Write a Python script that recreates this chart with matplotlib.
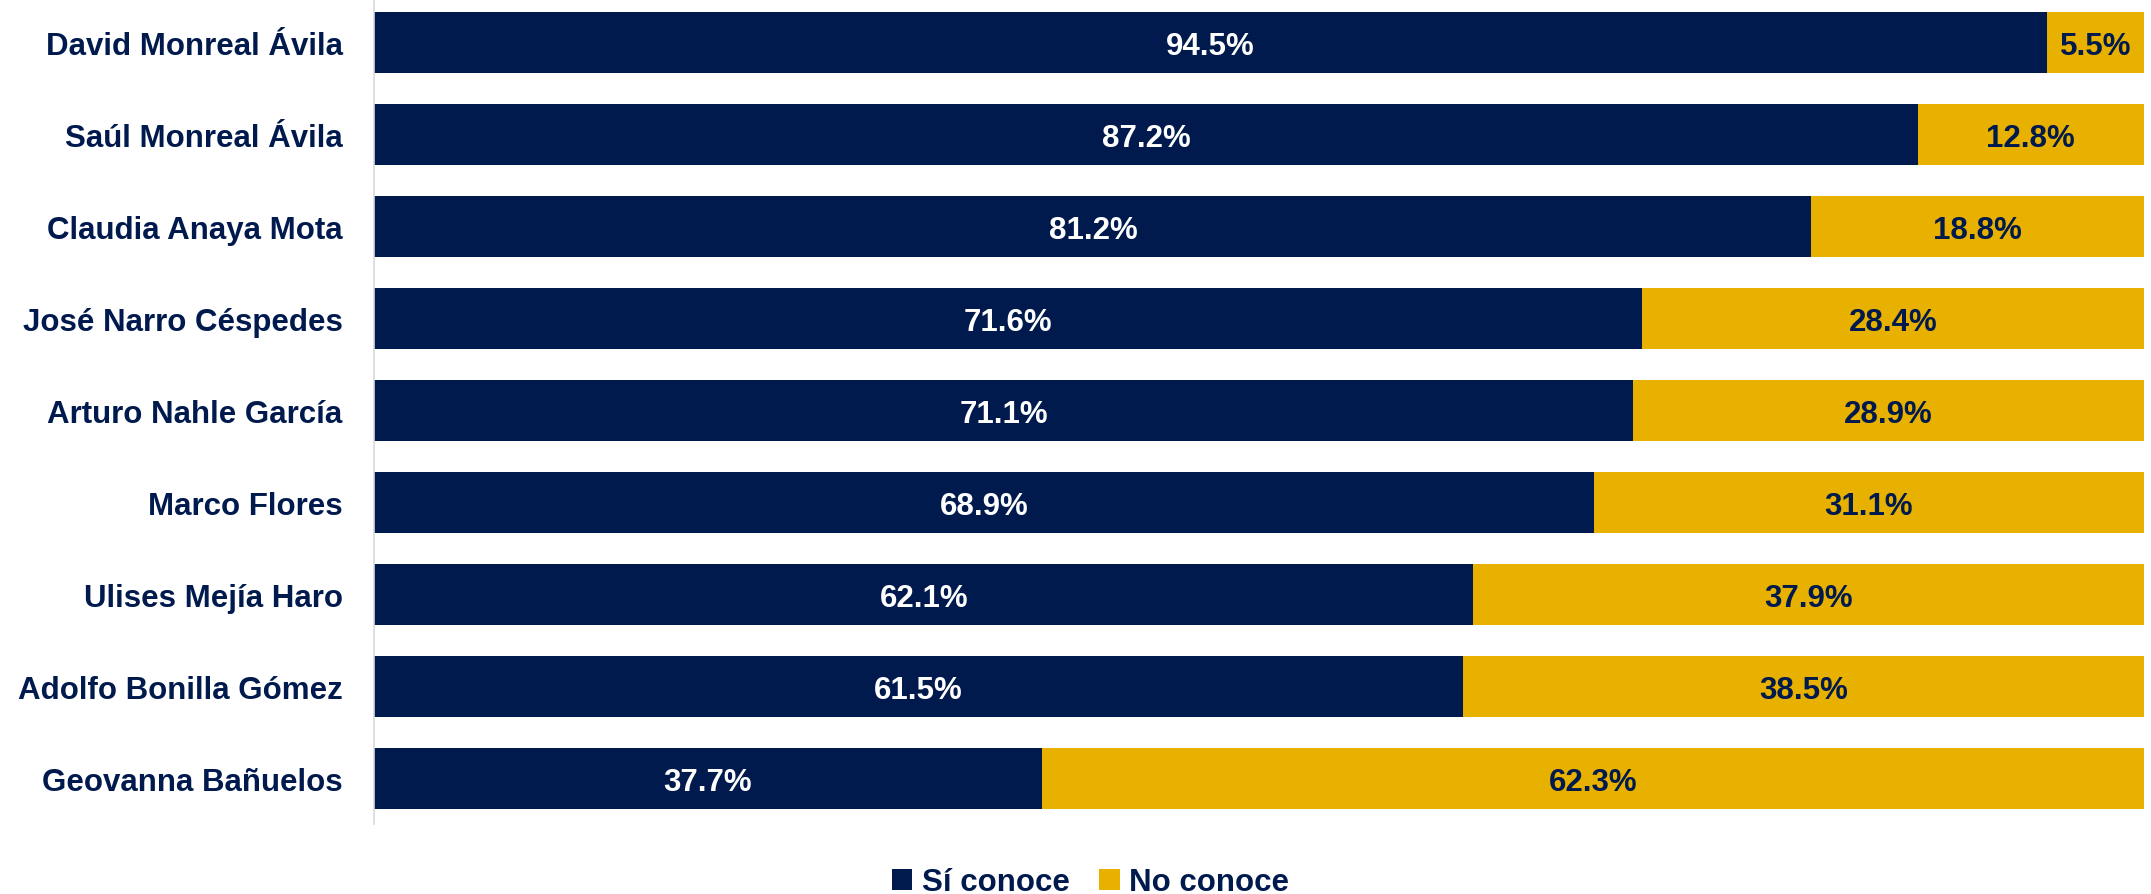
import matplotlib
matplotlib.use("Agg")
import matplotlib.pyplot as plt
from matplotlib.patches import Patch

plt.rcParams['font.family'] = ['Liberation Sans', 'DejaVu Sans']

candidates = ["David Monreal Ávila", "Saúl Monreal Ávila", "Claudia Anaya Mota",
              "José Narro Céspedes", "Arturo Nahle García", "Marco Flores",
              "Ulises Mejía Haro", "Adolfo Bonilla Gómez", "Geovanna Bañuelos"]
si_conoce = [94.5, 87.2, 81.2, 71.6, 71.1, 68.9, 62.1, 61.5, 37.7]
no_conoce = [5.5, 12.8, 18.8, 28.4, 28.9, 31.1, 37.9, 38.5, 62.3]
series_names = ["Sí conoce", "No conoce"]

navy = "#001A4D"
gold = "#E8B100"
fs = 22.5

fig = plt.figure(figsize=(21.51, 8.95), dpi=100)
ax = fig.add_axes([0.1741, 0.078, 0.8227, 0.925])

y = list(range(len(candidates)))
ax.barh(y, si_conoce, height=0.66, color=navy, edgecolor='none')
ax.barh(y, no_conoce, left=si_conoce, height=0.66, color=gold, edgecolor='none')

for i, (a, b) in enumerate(zip(si_conoce, no_conoce)):
    ax.text(a / 2, i + 0.04, f"{a:.1f}%", ha='center', va='center', color='white',
            fontsize=fs, fontweight='bold')
    ax.text(a + b / 2, i + 0.04, f"{b:.1f}%", ha='center', va='center', color=navy,
            fontsize=fs, fontweight='bold')

ax.set_xlim(0, 100)
ax.set_ylim(len(candidates) - 0.5, -0.5)
ax.set_yticks(y)
ax.set_yticklabels(candidates, fontsize=fs, fontweight='bold', color=navy)
ax.tick_params(axis='y', length=0, pad=23)
ax.set_xticks([])
for s in ['top', 'right', 'bottom']:
    ax.spines[s].set_visible(False)
ax.spines['left'].set_color('#D9D9D9')
ax.spines['left'].set_linewidth(1.2)

handles = [Patch(facecolor=navy, label=series_names[0]),
           Patch(facecolor=gold, label=series_names[1])]
leg = fig.legend(handles=handles, loc='center', bbox_to_anchor=(0.507, 0.013),
                 ncol=2, frameon=False, handlelength=0.65, handleheight=0.65,
                 handletextpad=0.3, columnspacing=0.95,
                 prop={'size': fs, 'weight': 'bold'})
for t in leg.get_texts():
    t.set_color(navy)

fig.savefig("out.png", dpi=100)
